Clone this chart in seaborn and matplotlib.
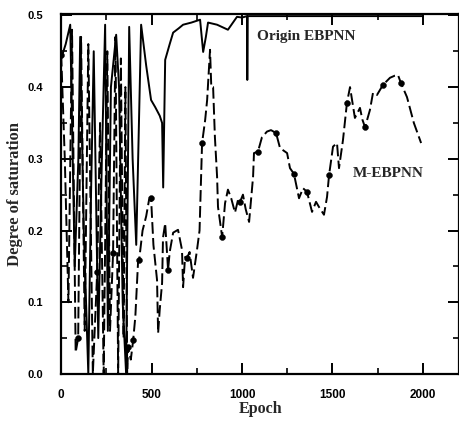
import matplotlib
matplotlib.use("Agg")
import matplotlib.pyplot as plt
import seaborn as sns
from matplotlib.ticker import MultipleLocator

sns.set_theme(style="white")
plt.rcParams['font.family'] = ['Liberation Sans', 'DejaVu Sans']

# Origin EBPNN (solid)
origin_x = [0, 25, 50, 75, 95, 105, 125, 150, 165, 180, 205, 225, 243, 258, 275, 304, 320, 340,
            359, 376, 395, 415, 442, 470, 497, 520, 545, 558, 564, 575, 600, 619, 650, 674, 720,
            768, 785, 800, 812, 862, 922, 972, 1000, 1028, 1029, 1031, 1060, 1200, 1500, 1800, 2000]
origin_y = [0.44, 0.46, 0.487, 0.15, 0.30, 0.47, 0.20, 0.0, 0.25, 0.45, 0.05, 0.30, 0.487, 0.06,
            0.40, 0.473, 0.40, 0.10, 0.0, 0.484, 0.30, 0.18, 0.487, 0.43, 0.382, 0.372, 0.36, 0.35,
            0.26, 0.438, 0.46, 0.476, 0.482, 0.487, 0.49, 0.494, 0.449, 0.47, 0.49, 0.487, 0.48,
            0.498, 0.497, 0.499, 0.41, 0.499, 0.499, 0.499, 0.499, 0.499, 0.499]

# M-EBPNN (dashed)
m_x = [0, 20, 40, 60, 80, 94, 110, 130, 150, 175, 199, 215, 235, 255, 270, 287, 300, 315, 330,
       345, 355, 365, 370, 385, 398, 410, 425, 431, 450, 470, 486, 497, 510, 530, 536, 545, 558,
       563, 575, 591, 600, 619, 646, 668, 674, 685, 696, 710, 729, 751, 765, 779, 796, 807, 823,
       830, 840, 850, 862, 867, 890, 906, 922, 940, 961, 978, 989, 1005, 1020, 1039, 1061, 1066,
       1088, 1110, 1138, 1160, 1188, 1210, 1249, 1265, 1287, 1315, 1337, 1359, 1387, 1409, 1425,
       1453, 1470, 1481, 1503, 1525, 1536, 1558, 1580, 1597, 1624, 1652, 1665, 1680, 1707, 1724,
       1746, 1779, 1818, 1845, 1862, 1878, 1912, 1950, 1990]
m_y = [0.445, 0.30, 0.10, 0.48, 0.03, 0.05, 0.47, 0.06, 0.46, 0.0, 0.142, 0.35, 0.0, 0.45, 0.06,
       0.169, 0.47, 0.0, 0.44, 0.05, 0.40, 0.0, 0.038, 0.02, 0.047, 0.08, 0.156, 0.159, 0.20, 0.22,
       0.243, 0.245, 0.18, 0.131, 0.057, 0.09, 0.127, 0.19, 0.21, 0.145, 0.17, 0.197, 0.201, 0.173,
       0.121, 0.163, 0.162, 0.17, 0.134, 0.173, 0.20, 0.322, 0.354, 0.382, 0.452, 0.40, 0.40, 0.33,
       0.275, 0.233, 0.191, 0.238, 0.257, 0.245, 0.225, 0.243, 0.240, 0.25, 0.23, 0.212, 0.275,
       0.308, 0.31, 0.33, 0.338, 0.34, 0.336, 0.315, 0.308, 0.287, 0.279, 0.245, 0.259, 0.254,
       0.226, 0.24, 0.233, 0.222, 0.247, 0.277, 0.317, 0.322, 0.287, 0.326, 0.378, 0.40, 0.357,
       0.371, 0.355, 0.344, 0.368, 0.392, 0.389, 0.403, 0.413, 0.416, 0.417, 0.406, 0.386, 0.35,
       0.322]

# markers on M-EBPNN
mk_x = [0, 94, 199, 287, 370, 398, 431, 497, 591, 696, 779, 890, 989, 1088, 1188, 1287, 1359,
        1481, 1580, 1680, 1779, 1878]
mk_y = [0.445, 0.05, 0.142, 0.169, 0.038, 0.047, 0.159, 0.245, 0.145, 0.162, 0.322, 0.191, 0.240,
        0.31, 0.336, 0.279, 0.254, 0.277, 0.378, 0.344, 0.403, 0.406]

x_ticks = [0, 500, 1000, 1500, 2000]
y_ticks = [0.0, 0.1, 0.2, 0.3, 0.4, 0.5]

fig = plt.figure(figsize=(4.6, 4.23), dpi=100)
ax = fig.add_axes([0.133, 0.116, 0.865, 0.851])

sns.lineplot(x=origin_x, y=origin_y, ax=ax, color='black', linewidth=1.4,
             estimator=None, sort=False)
sns.lineplot(x=m_x, y=m_y, ax=ax, color='black', linewidth=1.4,
             estimator=None, sort=False)
ax.lines[-1].set_dashes([6, 2.2])
sns.scatterplot(x=mk_x, y=mk_y, ax=ax, color='black', s=18, edgecolor='black', zorder=5)

ax.set_xlim(0, 2200)
ax.set_ylim(0, 0.502)
ax.set_xticks(x_ticks)
ax.set_yticks(y_ticks)
ax.set_xticklabels([str(v) for v in x_ticks], fontsize=8.5, fontweight='bold')
ax.set_yticklabels([f"{v:.1f}" for v in y_ticks], fontsize=8, fontweight='bold')
ax.xaxis.set_minor_locator(MultipleLocator(250))
ax.yaxis.set_minor_locator(MultipleLocator(0.05))
ax.tick_params(which='major', direction='in', length=8, width=1.4, top=True, right=True,
               bottom=True, left=True, colors='black')
ax.tick_params(axis='x', which='major', pad=11)
ax.tick_params(axis='y', which='major', pad=13)
ax.tick_params(which='minor', direction='in', length=4, width=1.2, top=True, right=True,
               bottom=True, left=True, colors='black')
for s in ax.spines.values():
    s.set_linewidth(1.6)
    s.set_color('black')

ax.set_xlabel("Epoch", family=['Liberation Serif'], fontweight='bold', fontsize=11.5, labelpad=0)
ax.set_ylabel("Degree of saturation", family=['Liberation Serif'], fontweight='bold',
              fontsize=12, labelpad=3)

ax.text(1080, 0.466, "Origin EBPNN", family=['Liberation Serif'], fontweight='bold', fontsize=11)
ax.text(1610, 0.274, "M-EBPNN", family=['Liberation Serif'], fontweight='bold', fontsize=11)

fig.savefig("out.png", dpi=100)
